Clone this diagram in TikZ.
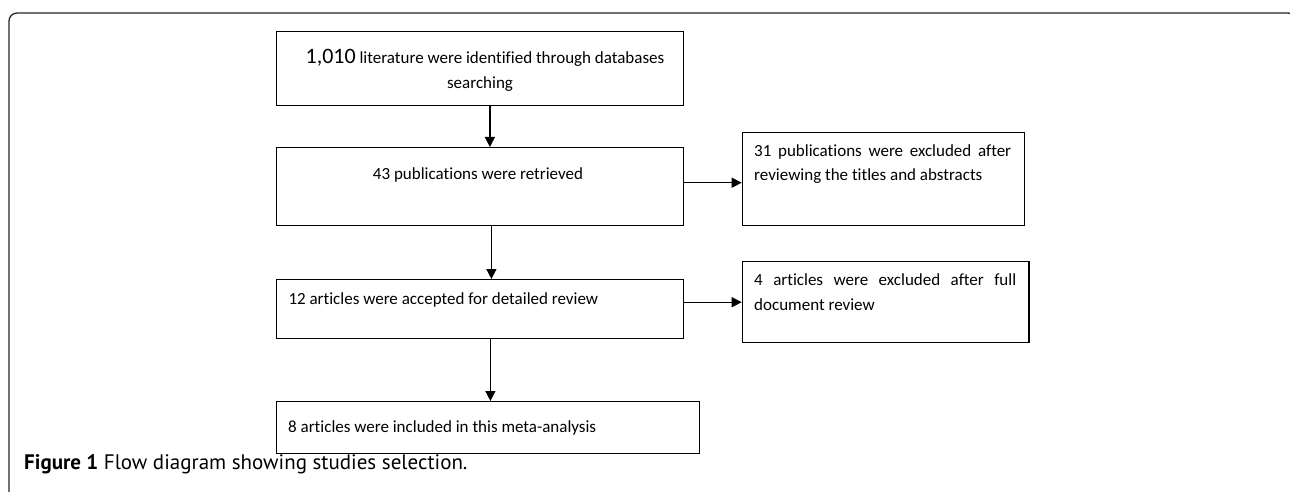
\documentclass[tikz,border=0pt]{standalone}
\usepackage{fontspec}
\setmainfont[Ligatures={NoCommon}]{Carlito}
\newfontfamily\capfont{PT Sans}
\usetikzlibrary{arrows.meta,calc}
\begin{document}
\begin{tikzpicture}[x=1pt,y=-1pt,
  box/.style={draw=black,line width=1.4pt,minimum width=#1,inner sep=0pt},
  txt/.style={font=\fontsize{17}{24}\selectfont,inner sep=0pt},
  arr/.style={draw=black,line width=1.4pt,-{Triangle[length=10pt,width=10pt]}},
  frame/.style={draw=black!85,line width=1.3pt,rounded corners=8pt}]
\useasboundingbox (0,0) rectangle (1290,492);
\clip (0,0) rectangle (1290,492);
\draw[frame] (9,500) -- (9,13) -- (1296,13) -- (1296,60);
% boxes
\node[box=407pt,minimum height=74pt,anchor=north west] (b1) at (275.7,31) {};
\node[box=407pt,minimum height=78pt,anchor=north west] (b2) at (275.7,147) {};
\node[box=282pt,minimum height=93pt,anchor=north west] (b3) at (741.7,132) {};
\node[box=407pt,minimum height=59pt,anchor=north west] (b4) at (275.7,279) {};
\node[box=286.5pt,minimum height=81pt,anchor=north west] (b5) at (741.7,261) {};
\node[box=423pt,minimum height=52pt,anchor=north west] (b6) at (275.7,401) {};
% texts
\node[txt,anchor=base] (t1a) at (485,63.3) {{\fontsize{22}{24}\selectfont 1,010} literature were identified through databases};
\node[txt,anchor=base] (t1b) at (480,88.3) {searching};
\node[txt,anchor=base] (t2) at (478,179) {43 publications were retrieved};
\node[txt,anchor=base west] (t3a) at (754,156.7) {\makebox[257pt][s]{31 publications were excluded after}};
\node[txt,anchor=base west] (t3b) at (754,180) {reviewing the titles and abstracts};
\node[txt,anchor=base west] (t4) at (288.3,304.3) {12 articles were accepted for detailed review};
\node[txt,anchor=base west] (t5a) at (754,285.7) {\makebox[262pt][s]{4 articles were excluded after full}};
\node[txt,anchor=base west] (t5b) at (754,310) {document review};
\node[txt,anchor=base west] (t6) at (288,432) {8 articles were included in this meta-analysis};
\node[anchor=base west,inner sep=0pt,font=\capfont\fontsize{21}{24}\selectfont] (cap) at (24,469) {\textbf{Figure 1} Flow diagram showing studies selection.};
% arrows
\draw[arr] ([xshift=10pt]b1.south) -- ([xshift=10pt]b2.north);
\draw[arr] ([xshift=11.5pt]b2.south) -- ([xshift=11.5pt]b4.north);
\draw[arr] ([xshift=10.5pt]b4.south) -- ([xshift=10.5pt]b4.south |- b6.north);
\draw[arr] ([yshift=4pt]b2.east) -- ([yshift=4pt]b2.east -| b3.west);
\draw[arr] ([yshift=7pt]b4.east) -- ([yshift=7pt]b4.east -| b5.west);
\end{tikzpicture}
\end{document}
